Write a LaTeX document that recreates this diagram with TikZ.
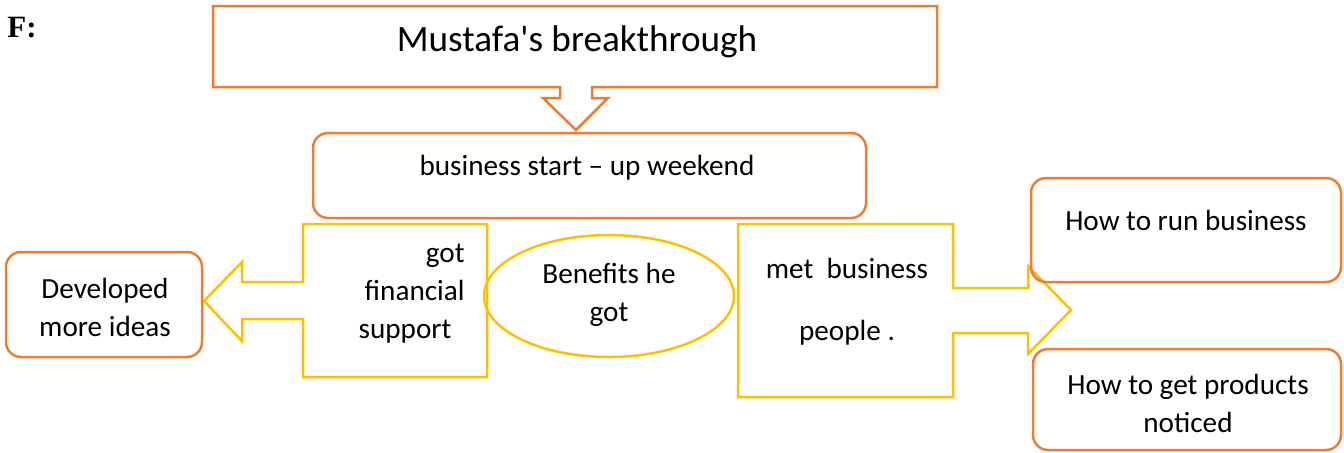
\documentclass[tikz,border=0pt]{standalone}
\usepackage{fontspec}
\setmainfont{Carlito}[Ligatures=TeXOff]
\newfontfamily\serifF{Liberation Serif}
\usetikzlibrary{shapes.geometric}
\definecolor{orng}{HTML}{ED7D31}
\definecolor{gold}{HTML}{FFC000}
\begin{document}
\begin{tikzpicture}[x=0.5pt,y=-0.5pt,
  obox/.style={draw=orng,line width=1.25pt,rounded corners=7.5pt},
  ocall/.style={draw=orng,line width=1.25pt},
  ycall/.style={draw=gold,line width=1.25pt},
  txt/.style={font=\fontsize{14.6}{19}\selectfont,inner sep=0pt,align=center},
  bigtxt/.style={font=\fontsize{18.6}{22}\selectfont,inner sep=0pt}]
\useasboundingbox (0,0) rectangle (1344,452);
% label F:
\node[anchor=base west,inner sep=0pt,font=\serifF\bfseries\fontsize{15.5}{18}\selectfont] (flab) at (7,37) {F:};
% top down-arrow callout
\draw[ocall] (213,6) -- (937,6) -- (937,87) -- (592,87) -- (592,98) -- (608,98) -- (576,130)
  -- (543,98) -- (560,98) -- (560,87) -- (213,87) -- cycle;
\node[bigtxt] (title) at (577,42) {Mustafa's breakthrough};
% business box
\draw[obox] (313,133) rectangle (866,218);
\node[txt] (biz) at (587,168) {business start – up weekend};
% left callout
\draw[ycall] (487,224) -- (487,377) -- (303,377) -- (303,319) -- (242,319) -- (242,341)
  -- (204,301) -- (242,262) -- (242,282) -- (303,282) -- (303,224) -- cycle;
\node[txt,align=right,anchor=east] (fin) at (465,294) {got\\financial\\support\kern0.45em};
% developed box
\draw[obox] (6,252) rectangle (202,357);
\node[txt] (dev) at (105,307) {Developed\\more ideas};
% ellipse
\node[draw=gold,line width=1.25pt,ellipse,minimum width=125pt,minimum height=61pt,inner sep=0pt] (ell) at (609,296) {};
\node[txt] (ben) at (609,295) {Benefits he\\got};
% right callout
\draw[ycall] (738,224) -- (953,224) -- (953,288) -- (1028,288) -- (1028,266) -- (1071,310)
  -- (1028,354) -- (1028,333) -- (953,333) -- (953,397) -- (738,397) -- cycle;
\node[txt,font=\fontsize{14.6}{31}\selectfont] (met) at (847,302) {met\ \ business\\people .};
% right boxes
\draw[obox] (1031,178) rectangle (1341,282);
\node[txt] (run) at (1186,220) {How to run business};
\draw[obox] (1033,349) rectangle (1341,450);
\node[txt] (prod) at (1188,403) {How to get products\\noticed};
\end{tikzpicture}
\end{document}
